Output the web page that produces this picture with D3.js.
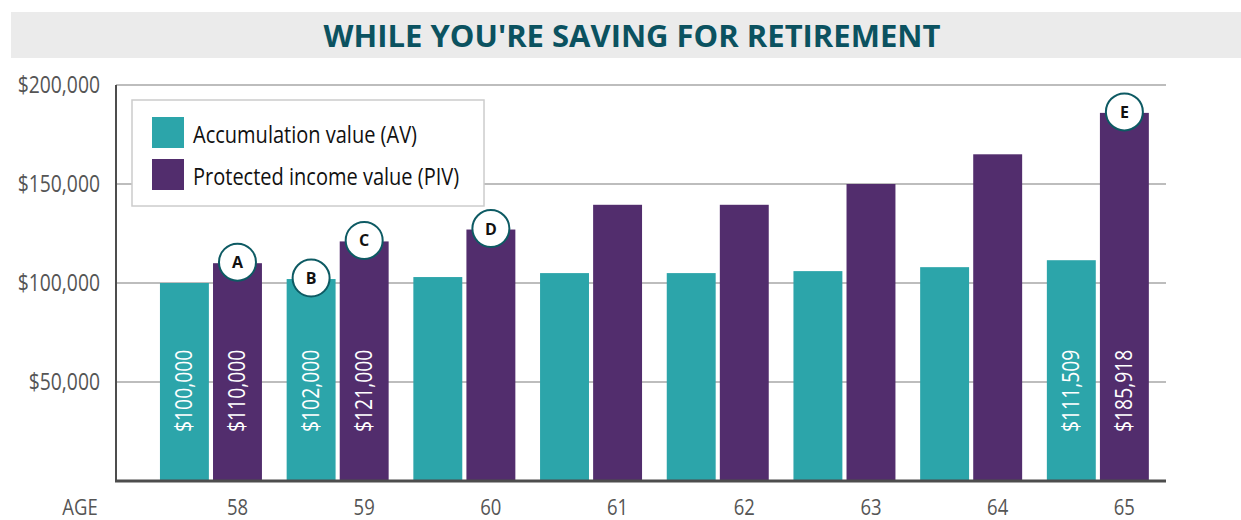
<!DOCTYPE html>
<html>
<head>
<meta charset="utf-8">
<script src="https://cdn.jsdelivr.net/npm/d3@7"></script>
<style>
    body { margin: 0; background: #ffffff; }
    svg { display: block; }
</style>
</head>
<body>
<div id="chart"></div>
<script>
const ages = ["58", "59", "60", "61", "62", "63", "64", "65"];
const seriesKeys = ["av", "piv"];
const seriesNames = ["Accumulation value (AV)", "Protected income value (PIV)"];
const avValues = [100000, 102000, 103000, 105000, 105000, 106000, 108000, 111509];
const pivValues = [110000, 121000, 127000, 139500, 139500, 150000, 165000, 185918];
const yTicks = [50000, 100000, 150000, 200000];
// bar labels shown only on some bars
const labeledAges = ["58", "59", "65"];
// circled markers: [letter, age, series]
const markers = [
    ["A", "58", "piv"],
    ["B", "59", "av"],
    ["C", "59", "piv"],
    ["D", "60", "piv"],
    ["E", "65", "piv"],
];

const COLORS = {
    av: "#2ca5aa",
    piv: "#522d6d",
    title: "#0b5260",
    titleBand: "#ebebeb",
    grid: "#bdbdbd",
    axis: "#4d4d4d",
    tick: "#555555",
    legendBorder: "#cccccc",
    marker: "#0d5a63",
};

const FONT = "'Open Sans', sans-serif";

const width = 1241;
const height = 520;
const plot = { left: 116, right: 1166, top: 85, bottom: 481 };

const rows = ages.map((age, i) => ({ age, av: avValues[i], piv: pivValues[i] }));

// squeeze text horizontally, the original uses a narrow face
const condense = (selection, factor) => {
    selection.each(function () {
        const w = this.getComputedTextLength();
        d3.select(this)
            .attr("textLength", w * factor)
            .attr("lengthAdjust", "spacingAndGlyphs");
    });
};

const svg = d3.select("#chart")
    .append("svg")
    .attr("width", width)
    .attr("height", height);

// title band
svg.append("rect")
    .attr("x", 11).attr("y", 12)
    .attr("width", width - 11).attr("height", 46)
    .attr("fill", COLORS.titleBand);

svg.append("text")
    .attr("x", 632).attr("y", 47)
    .attr("text-anchor", "middle")
    .style("font-family", FONT)
    .style("font-weight", "700")
    .style("font-size", "31px")
    .style("fill", COLORS.title)
    .text("WHILE YOU'RE SAVING FOR RETIREMENT");

const y = d3.scaleLinear().domain([0, 200000]).range([plot.bottom, plot.top]);

const x = d3.scaleBand()
    .domain(ages)
    .range([147.6, 1161.2])
    .paddingInner(0.195)
    .paddingOuter(0.0975);

const xSub = d3.scaleBand()
    .domain(seriesKeys)
    .range([0, x.bandwidth()])
    .paddingInner(0.078);

// gridlines
svg.append("g")
    .selectAll("line")
    .data(yTicks)
    .join("line")
    .attr("x1", plot.left).attr("x2", plot.right)
    .attr("y1", (d) => y(d)).attr("y2", (d) => y(d))
    .attr("stroke", COLORS.grid)
    .attr("stroke-width", 2);

// y axis labels
const yAxis = d3.axisLeft(y)
    .tickValues(yTicks)
    .tickSize(0)
    .tickPadding(16)
    .tickFormat((d) => "$" + d3.format(",")(d));

svg.append("g")
    .attr("transform", `translate(${plot.left},0)`)
    .call(yAxis)
    .call((g) => {
        g.select(".domain").remove();
        g.selectAll(".tick text")
            .style("font-family", FONT)
            .style("font-size", "23px")
            .style("fill", COLORS.tick)
            .call(condense, 0.84);
    });

// bars
const groups = svg.append("g")
    .selectAll("g")
    .data(rows)
    .join("g")
    .attr("transform", (d) => `translate(${x(d.age)},0)`);

groups.selectAll("rect")
    .data((d) => seriesKeys.map((key) => ({ key, age: d.age, value: d[key] })))
    .join("rect")
    .attr("x", (d) => xSub(d.key))
    .attr("y", (d) => y(d.value))
    .attr("width", xSub.bandwidth())
    .attr("height", (d) => y(0) - y(d.value))
    .attr("fill", (d) => COLORS[d.key]);

groups.selectAll("text.value")
    .data((d) => labeledAges.includes(d.age)
        ? seriesKeys.map((key) => ({ key, value: d[key] }))
        : [])
    .join("text")
    .attr("class", "value")
    .attr("transform", (d) => `translate(${xSub(d.key) + xSub.bandwidth() / 2 + 8},432) rotate(-90)`)
    .attr("text-anchor", "start")
    .style("font-family", FONT)
    .style("font-size", "23px")
    .style("fill", "#ffffff")
    .text((d) => "$" + d3.format(",")(d.value))
    .call(condense, 0.84);

// axes lines
svg.append("line")
    .attr("x1", plot.left).attr("x2", plot.left)
    .attr("y1", plot.top).attr("y2", plot.bottom)
    .attr("stroke", COLORS.axis)
    .attr("stroke-width", 2);

svg.append("line")
    .attr("x1", plot.left - 1).attr("x2", plot.right)
    .attr("y1", plot.bottom).attr("y2", plot.bottom)
    .attr("stroke", COLORS.axis)
    .attr("stroke-width", 3);

// age labels, placed under the PIV bar
svg.append("g")
    .selectAll("text")
    .data(ages)
    .join("text")
    .attr("x", (d) => x(d) + xSub("piv") + xSub.bandwidth() / 2)
    .attr("y", 515)
    .attr("text-anchor", "middle")
    .style("font-family", FONT)
    .style("font-size", "22px")
    .style("fill", COLORS.tick)
    .text((d) => d)
    .call(condense, 0.84);

svg.append("text")
    .attr("x", 80).attr("y", 515)
    .attr("text-anchor", "middle")
    .style("font-family", FONT)
    .style("font-size", "22px")
    .style("fill", COLORS.tick)
    .text("AGE")
    .call(condense, 0.84);

// markers
const valueOf = (age, key) => rows.find((r) => r.age === age)[key];
const markerGroups = svg.append("g")
    .selectAll("g")
    .data(markers)
    .join("g")
    .attr("transform", (d) => `translate(${x(d[1]) + xSub(d[2]) + xSub.bandwidth() / 2},${y(valueOf(d[1], d[2])) - 1})`);

markerGroups.append("circle")
    .attr("r", 18.5)
    .attr("fill", "#ffffff")
    .attr("stroke", COLORS.marker)
    .attr("stroke-width", 2);

markerGroups.append("text")
    .attr("y", 6)
    .attr("text-anchor", "middle")
    .style("font-family", FONT)
    .style("font-weight", "700")
    .style("font-size", "16px")
    .style("fill", "#111111")
    .text((d) => d[0]);

// legend
const legend = svg.append("g").attr("transform", "translate(132,100)");
legend.append("rect")
    .attr("width", 352).attr("height", 106)
    .attr("fill", "#ffffff")
    .attr("stroke", COLORS.legendBorder)
    .attr("stroke-width", 1.5);

const legendItems = legend.selectAll("g")
    .data(seriesKeys)
    .join("g")
    .attr("transform", (d, i) => `translate(20,${17 + i * 42})`);

legendItems.append("rect")
    .attr("width", 32).attr("height", 31)
    .attr("fill", (d) => COLORS[d]);

legendItems.append("text")
    .attr("x", 41).attr("y", 26)
    .style("font-family", FONT)
    .style("font-size", "23px")
    .style("fill", "#111111")
    .text((d, i) => seriesNames[i])
    .call(condense, 0.87);
</script>
</body>
</html>
